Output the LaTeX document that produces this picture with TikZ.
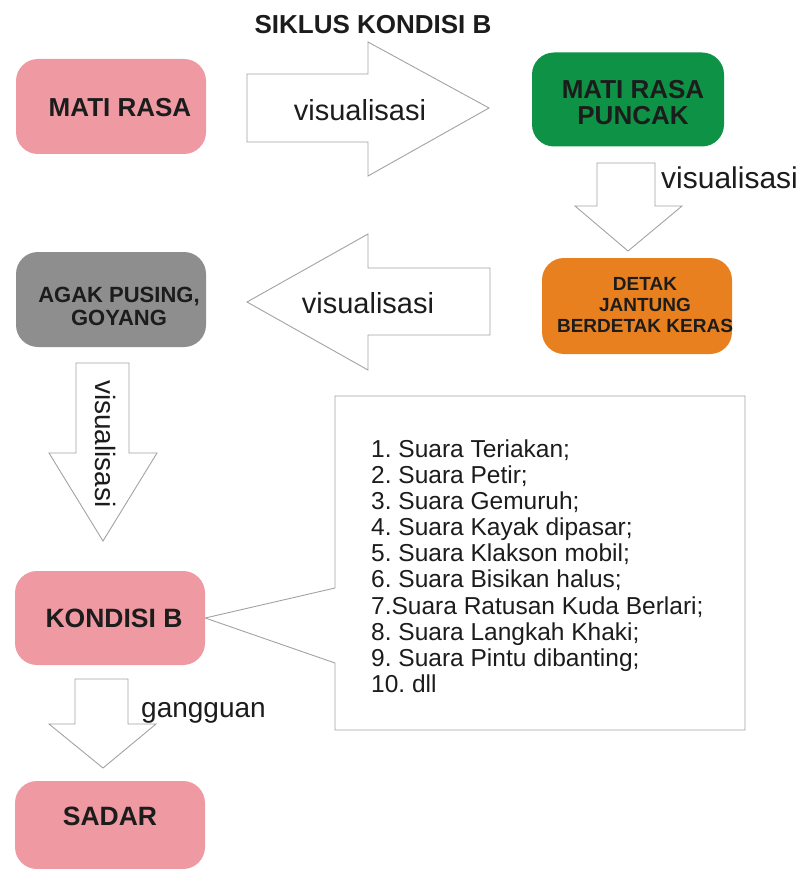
\documentclass[tikz,border=0pt]{standalone}
\usepackage{fontspec}
\setmainfont{Liberation Sans}
\frenchspacing
\definecolor{pinkbox}{HTML}{EF9AA2}
\definecolor{greenbox}{HTML}{0E9245}
\definecolor{orangebox}{HTML}{E9801F}
\definecolor{graybox}{HTML}{8E8E8E}
\definecolor{lineg}{HTML}{A3A3A3}
\definecolor{ink}{HTML}{1C1C1C}
\begin{document}
\begin{tikzpicture}[x=1pt,y=-1pt,
  box/.style={rounded corners=22pt, inner sep=0pt, minimum width=190pt, minimum height=95pt},
  boxtxt/.style={font=\fontsize{#1}{#1}\selectfont\bfseries, text=ink, align=center, inner sep=0pt},
  blockarrow/.style={draw=lineg, line width=0.9pt, fill=white, line join=miter},
  arrtxt/.style={font=\fontsize{#1}{#1}\selectfont, text=ink, inner sep=0pt},
]
\useasboundingbox (0,0) rectangle (804,869);
\fill[white] (0,0) rectangle (804,869);

% title
\node[boxtxt=26] (title) at (373,25) {SIKLUS KONDISI B};

% boxes
\node[box, fill=pinkbox]   (mr)  at (111,106.5) {};
\node[box, fill=greenbox, minimum width=192pt, minimum height=94pt] (mrp) at (628,99.5) {};
\node[box, fill=orangebox, minimum height=96pt] (dj)  at (637,306) {};
\node[box, fill=graybox]   (ap)  at (111,299.5) {};
\node[box, fill=pinkbox, minimum height=94pt]   (kb)  at (110,618) {};
\node[box, fill=pinkbox, minimum height=88pt]   (sd)  at (110,825) {};

% box texts
\node[boxtxt=26] (mrT)  at (120,108) {MATI RASA};
\node[boxtxt=26] (mrpT) at (633,103) {MATI RASA\\PUNCAK};
\node[boxtxt=19, font=\fontsize{19}{21}\selectfont\bfseries] (djT) at (645,305) {DETAK\\JANTUNG\\BERDETAK KERAS};
\node[boxtxt=22, font=\fontsize{22}{23.5}\selectfont\bfseries] (apT) at (119,306.5) {AGAK PUSING,\\GOYANG};
\node[boxtxt=26.5] (kbT) at (114,618) {KONDISI B};
\node[boxtxt=26.5] (sdT) at (110,816) {SADAR};

% block arrow: MATI RASA -> MATI RASA PUNCAK
\draw[blockarrow] (247,74) -- (368,74) -- (368,42) -- (489,108) -- (368,176) -- (368,142) -- (247,142) -- cycle;
\node[arrtxt=29] (v1) at (360,110) {visualisasi};

% block arrow: MATI RASA PUNCAK -> DETAK JANTUNG
\draw[blockarrow] (597,163) -- (655,163) -- (655,206) -- (682,206) -- (628,251) -- (575,206) -- (597,206) -- cycle;
\node[arrtxt=30, anchor=west] (v2) at (661,178) {visualisasi};

% block arrow: DETAK JANTUNG -> AGAK PUSING
\draw[blockarrow] (490,268) -- (368,268) -- (368,234) -- (247,302) -- (368,370) -- (368,335) -- (490,335) -- cycle;
\node[arrtxt=29] (v3) at (368,303) {visualisasi};

% block arrow: AGAK PUSING -> KONDISI B
\draw[blockarrow] (76,363) -- (129,363) -- (129,453) -- (157,453) -- (103,541) -- (49,453) -- (76,453) -- cycle;
\node[arrtxt=28, rotate=-90] (v4) at (106,444) {visualisasi};

% block arrow: KONDISI B -> SADAR
\draw[blockarrow] (75,679) -- (128,679) -- (128,724) -- (156,724) -- (103,768) -- (49,724) -- (75,724) -- cycle;
\node[arrtxt=28, anchor=west] (g) at (141,713) {gangguan};

% callout
\draw[draw=lineg, line width=0.9pt, fill=white] (335,396) -- (745,396) -- (745,730) -- (335,730) -- (335,663) -- (kb.east) -- (335,588) -- cycle;
\node[anchor=north west, align=left, inner sep=0pt, text=ink,
      font=\fontsize{24.5}{26.1}\selectfont] (list) at (371,439.5)
{1. Suara Teriakan;\\
2. Suara Petir;\\
3. Suara Gemuruh;\\
4. Suara Kayak dipasar;\\
5. Suara Klakson mobil;\\
6. Suara Bisikan halus;\\
7.Suara Ratusan Kuda Berlari;\\
8. Suara Langkah Khaki;\\
9. Suara Pintu dibanting;\\
10. dll};
\end{tikzpicture}
\end{document}
